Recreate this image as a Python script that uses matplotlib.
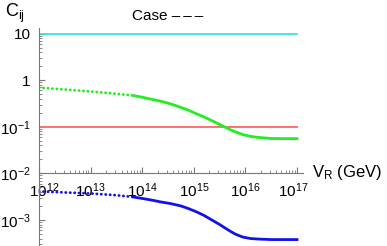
import numpy as np
import matplotlib
matplotlib.use("Agg")
import matplotlib.pyplot as plt
import matplotlib.transforms as mtransforms
from matplotlib.ticker import LogLocator, FixedLocator

plt.rcParams['font.family'] = ['Liberation Sans', 'DejaVu Sans']
plt.rcParams['mathtext.fontset'] = 'custom'
plt.rcParams['mathtext.rm'] = 'Liberation Sans'
plt.rcParams['mathtext.it'] = 'Liberation Sans:italic'

# log10(V_R / GeV); first part of each curve is dotted
logv_dot = [12.0, 12.5, 13.0, 13.5, 13.84]
green_dot = [0.69, 0.63, 0.57, 0.51, 0.465]
blue_dot = [4.1e-3, 3.9e-3, 3.7e-3, 3.4e-3, 3.1e-3]

logv = [13.84, 14.0, 14.2, 14.35, 14.55, 14.75, 14.9, 15.05, 15.2, 15.35, 15.5,
        15.6, 15.7, 15.8, 15.95, 16.1, 16.25, 16.5, 16.75, 17.0]
green = [0.465, 0.43, 0.385, 0.355, 0.31, 0.26, 0.225, 0.19, 0.162, 0.135, 0.112,
         0.099, 0.087, 0.078, 0.068, 0.062, 0.059, 0.056, 0.0555, 0.0555]
blue = [3.1e-3, 2.9e-3, 2.65e-3, 2.45e-3, 2.25e-3, 2.0e-3, 1.75e-3, 1.5e-3, 1.25e-3, 1.0e-3, 8.0e-4,
        6.8e-4, 5.8e-4, 5.0e-4, 4.3e-4, 4.0e-4, 3.9e-4, 3.8e-4, 3.8e-4, 3.8e-4]

cyan_level = 10.0
red_level = 0.1
xtick_exp = [12, 13, 14, 15, 16, 17]
ytick_vals = [10, 1, 1e-1, 1e-2, 1e-3]
ytick_labels = ['10', '1', r'$10^{-1}$', r'$10^{-2}$', r'$10^{-3}$']

xd = 10.0 ** np.array(logv_dot)
xs = 10.0 ** np.array(logv)

fig = plt.figure(figsize=(3.87, 2.46), dpi=100)
ax = fig.add_axes([39 / 387, 0, (303 - 39) / 387, 1 - 28 / 246])
ax.set_xscale('log')
ax.set_yscale('log')
ax.set_xlim(1e12, 10 ** (17 + 6 / 51.6))
ax.set_ylim(10 ** (-3 - 26 / 46.6), 10 ** (1 + 5.5 / 46.6))

ax.plot([1e12, 1e17], [cyan_level, cyan_level], color='#33dddd', lw=1.2)
ax.plot([1e12, 1e17], [red_level, red_level], color='#ff7070', lw=1.4)

dots = (0, (0.1, 1.5))
ax.plot(xd, green_dot, color='#22ee22', lw=2, ls=dots, dash_capstyle='round')
ax.plot(xs, green, color='#22ee22', lw=2)
ax.plot(xd, blue_dot, color='#1111ee', lw=2, ls=dots, dash_capstyle='round')
ax.plot(xs, blue, color='#1111ee', lw=2)

for s in ['top', 'right']:
    ax.spines[s].set_visible(False)
ax.spines['bottom'].set_position(('data', 1e-2))
for s in ['left', 'bottom']:
    ax.spines[s].set_color('#777777')
    ax.spines[s].set_linewidth(0.8)

ax.xaxis.set_major_locator(FixedLocator([10.0 ** e for e in xtick_exp]))
ax.set_xticklabels([r'$10^{%d}$' % e for e in xtick_exp])
ax.xaxis.set_minor_locator(LogLocator(base=10, subs=np.arange(2, 10), numticks=20))
ax.yaxis.set_major_locator(FixedLocator(ytick_vals))
ax.set_yticklabels(ytick_labels)
ax.yaxis.set_minor_locator(LogLocator(base=10, subs=np.arange(2, 10), numticks=20))
ax.xaxis.set_minor_formatter(plt.NullFormatter())
ax.yaxis.set_minor_formatter(plt.NullFormatter())
ax.tick_params(which='major', direction='in', length=4, width=0.8, color='#777777',
               labelsize=11)
ax.tick_params(which='minor', direction='in', length=2, width=0.6, color='#777777')
ax.tick_params(axis='x', pad=6)
ax.tick_params(axis='y', pad=6)

# nudge first / last x labels away from the ends like the original
labels = ax.get_xticklabels()
labels[0].set_transform(labels[0].get_transform() +
                        mtransforms.ScaledTranslation(5 / 100, 0, fig.dpi_scale_trans))
labels[-1].set_transform(labels[-1].get_transform() +
                         mtransforms.ScaledTranslation(-4 / 100, 0, fig.dpi_scale_trans))
ax.patch.set_alpha(0)

fig.text(5 / 387, 1 - 13 / 246, r'C$_{\rm ij}$', fontsize=13, va='center', ha='left')
fig.text(132 / 387, 1 - 16 / 246, 'Case \u2013\u2009\u2013\u2009\u2013', fontsize=11,
         va='center', ha='left')
fig.text(312 / 387, 1 - 173 / 246, r'V$_{\rm R}$ (GeV)', fontsize=12, va='center', ha='left')

fig.savefig('out.png', dpi=100)
